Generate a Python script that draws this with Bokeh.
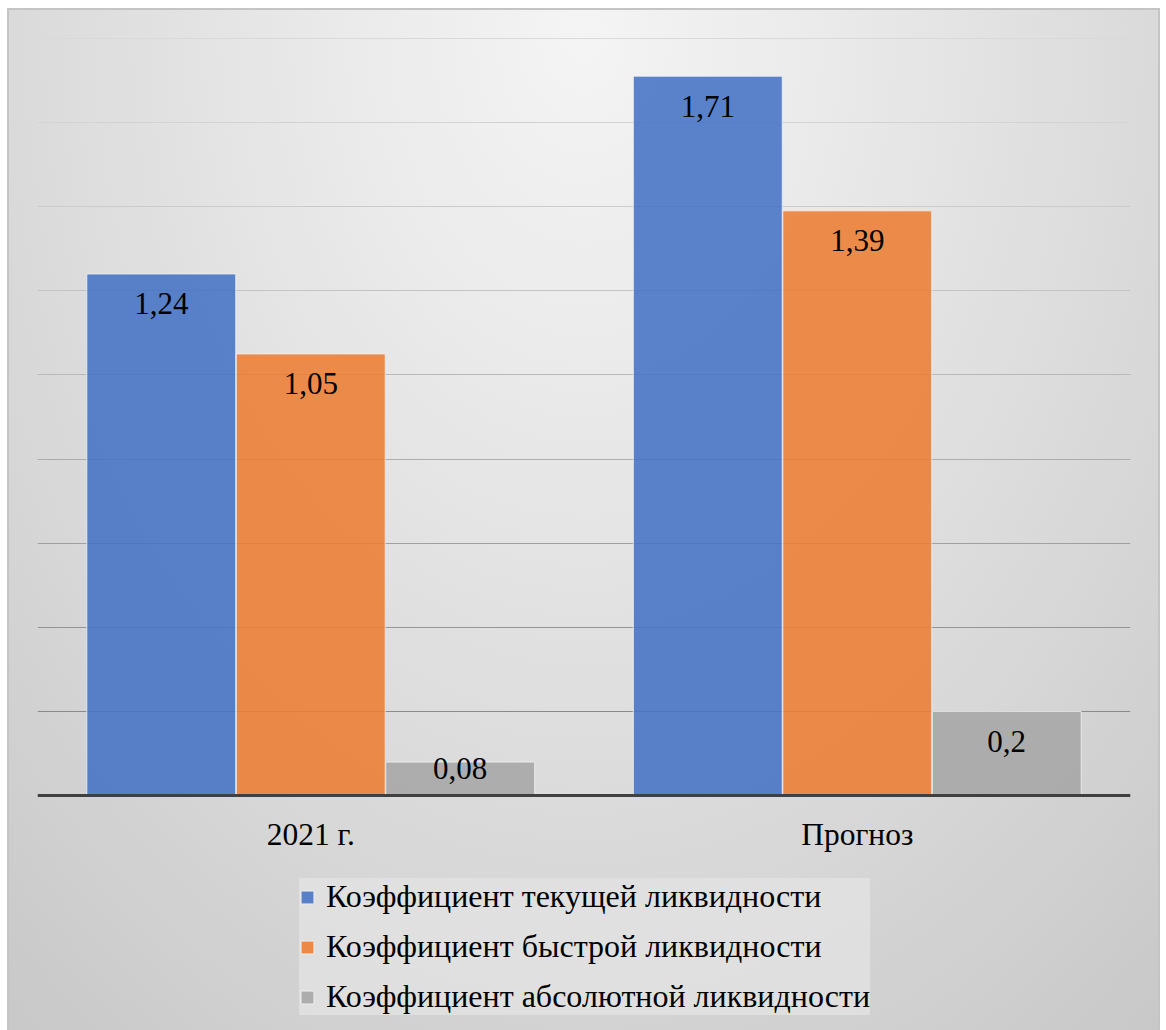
from bokeh.plotting import figure
from bokeh.models import (ColumnDataSource, FactorRange, Range1d, Grid, FixedTicker,
                          Legend, LegendItem)
from bokeh.transform import dodge
from bokeh.core.properties import value
from bokeh.embed import file_html
from bokeh.resources import INLINE

# --- data -------------------------------------------------------------
periods = ["2021 г.", "Прогноз"]
series_names = [
    "Коэффициент текущей ликвидности",
    "Коэффициент быстрой ликвидности",
    "Коэффициент абсолютной ликвидности",
]
current_ratio = [1.24, 1.71]
quick_ratio = [1.05, 1.39]
absolute_ratio = [0.08, 0.2]
grid_levels = [0.2, 0.4, 0.6, 0.8, 1.0, 1.2, 1.4, 1.6, 1.8]

# --- styling ----------------------------------------------------------
FONT = "Liberation Serif"
colors = ["#4472C4", "#ED7D31", "#A5A5A5"]
grid_colors = ["#8a8a8a", "#959595", "#a0a0a0", "#acacac", "#b8b8b8",
               "#c3c3c3", "#cbcbcb", "#d3d3d3", "#d9d9d9"]
offsets = [-0.2735, 0.0, 0.2735]
bar_width = 0.2725
Y_MIN, Y_MAX = -0.558, 1.802
FRAME_H = 993  # plot frame height in px (frame runs to the bottom edge)

p = figure(
    width=1166, height=1030,
    x_range=FactorRange(*periods, range_padding=0),
    y_range=Range1d(Y_MIN, Y_MAX),
    output_backend="svg", toolbar_location=None,
    min_border_left=37, min_border_right=36,
    min_border_top=37, min_border_bottom=0,
)
p.border_fill_alpha = 0
p.background_fill_alpha = 0
p.outline_line_color = None

# chart-area backdrop: thin grey frame with a soft radial gradient inside
p.styles = {
    "background":
        "radial-gradient(ellipse 820px 1150px at 50% 2%, #f4f4f4 0%, #eaeaea 30%, "
        "#d9d9d9 72%, #cdcdcd 100%, #c2c2c2 125%) 9px 10px / 1149px 1030px no-repeat, "
        "linear-gradient(#c4c4c4, #c4c4c4) 7px 8px / 1153px 1030px no-repeat, #ffffff",
}

p.xgrid.grid_line_color = None
p.ygrid.grid_line_color = None
for lvl, col in zip(grid_levels, grid_colors):
    p.add_layout(Grid(dimension=1, ticker=FixedTicker(ticks=[lvl]),
                      grid_line_color=col, grid_line_width=1))

p.yaxis.visible = False
xa = p.xaxis[0]
xa.fixed_location = 0
xa.axis_line_color = "#404040"
xa.axis_line_width = 3
xa.major_tick_line_color = None
xa.minor_tick_line_color = None
xa.major_label_text_font = FONT
xa.major_label_text_font_size = "31.5px"
xa.major_label_text_color = "#000000"
xa.major_label_standoff = 15

px_per_unit = FRAME_H / (Y_MAX - Y_MIN)
renderers = []
for name, vals, col, off in zip(series_names,
                                [current_ratio, quick_ratio, absolute_ratio],
                                colors, offsets):
    label_text = [("%g" % v).replace(".", ",") for v in vals]
    label_dy = [min(30.0, v * px_per_unit - 27.0) for v in vals]
    src = ColumnDataSource(dict(period=periods, val=vals, txt=label_text, dy=label_dy))
    r = p.vbar(x=dodge("period", off, range=p.x_range), top="val", width=bar_width,
               source=src, fill_color=col, fill_alpha=0.87,
               line_color="#f4f4f4", line_alpha=0.8, line_width=1)
    renderers.append(r)
    p.text(x=dodge("period", off, range=p.x_range), y="val", text="txt",
           y_offset="dy", source=src, text_align="center", text_baseline="middle",
           text_font=value(FONT), text_font_size="31px", text_color="#000000")

legend = Legend(
    items=[LegendItem(label=n, renderers=[r]) for n, r in zip(series_names, renderers)],
    location=(262, 15),
    orientation="vertical",
    glyph_width=16, glyph_height=16,
    label_standoff=11, label_height=37, spacing=13, padding=7, margin=0,
    label_text_font=FONT, label_text_font_size="32px", label_text_color="#000000",
    label_text_baseline="middle",
    background_fill_color="#e2e2e2", background_fill_alpha=0.8,
    border_line_color=None,
)
p.add_layout(legend, "center")

open("out.html", "w").write(file_html(p, INLINE))
